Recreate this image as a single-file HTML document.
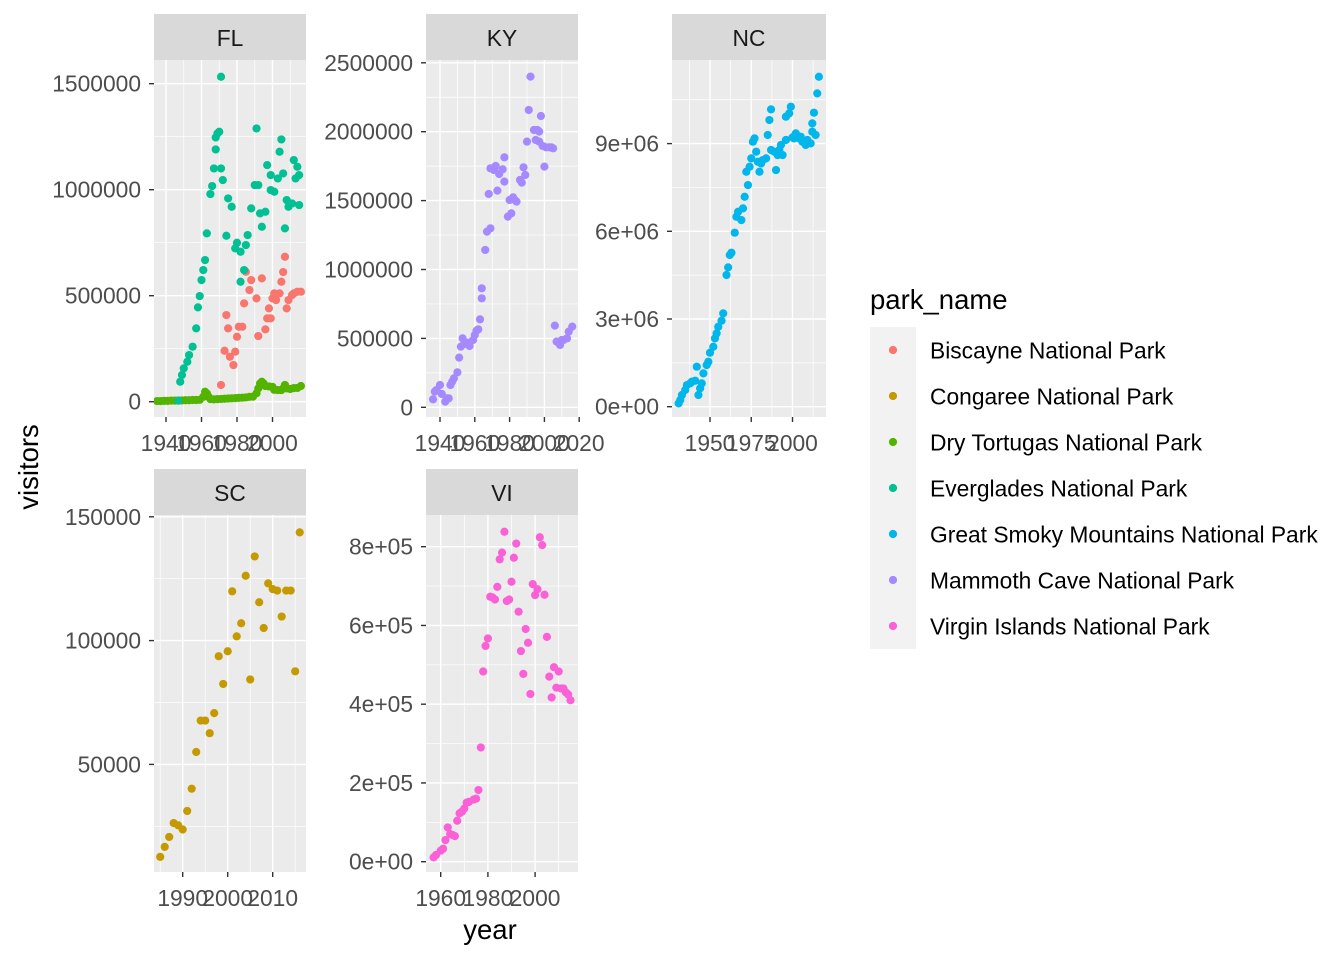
<!DOCTYPE html>
<html><head><meta charset="utf-8">
<style>
html,body{margin:0;padding:0;background:#fff;}
svg{display:block;font-family:"Liberation Sans",sans-serif;}
</style></head>
<body>
<svg id="chart" width="1344" height="960" viewBox="0 0 1344 960" xmlns="http://www.w3.org/2000/svg"></svg>
<script>
// ---- data ----
const parkNames = ["Biscayne National Park","Congaree National Park","Dry Tortugas National Park","Everglades National Park","Great Smoky Mountains National Park","Mammoth Cave National Park","Virgin Islands National Park"];
const parkColors = ["#F8766D","#C49A00","#53B400","#00C094","#00B6EB","#A58AFF","#FB61D7"];
const stateNames = ["FL","KY","NC","SC","VI"];

const biscayneYears = [1971,1973,1974,1975,1976,1978,1979,1980,1981,1983,1984,1985,1987,1988,1991,1992,1994,1996,1997,1998,1999,2000,2001,2002,2004,2005,2006,2007,2008,2009,2011,2012,2014,2016];
const biscayneVisitors = [78600,240500,408700,345800,212200,172900,235800,306500,353700,353700,463700,613100,526600,573800,487300,309700,581600,341100,393000,440200,393000,487300,510900,479500,510900,565900,611500,683800,440200,479500,503000,510900,518800,518800];

const evergladesYears = [1947,1948,1949,1950,1952,1953,1955,1957,1958,1959,1960,1961,1962,1963,1965,1966,1967,1968,1968,1969,1970,1971,1971,1972,1974,1975,1977,1979,1980,1982,1982,1984,1985,1986,1988,1990,1992,1991,1993,1994,1996,1997,1999,1999,2001,2003,2004,2005,2006,2007,2008,2009,2011,2012,2013,2014,2015,2015];
const evergladesVisitors = [4700,94300,125800,157200,188600,220000,259400,345800,444900,498300,573800,620900,668100,793900,979400,1017100,1100400,1246600,1190000,1265500,1273300,1532700,1100400,1045400,782900,958900,919600,723100,749800,707400,565900,620900,738800,786000,911800,1021800,1021800,1289000,888200,825300,896000,1116100,1069000,998200,990400,1053200,1179000,1237200,1076800,817400,951100,919600,935300,1139700,1053200,1108300,1069000,927500];

const tortugasYears = [1935,1937,1939,1941,1943,1945,1947,1949,1951,1953,1955,1957,1959,1961,1962,1963,1964,1965,1967,1969,1971,1973,1975,1977,1979,1981,1983,1985,1987,1989,1991,1992,1993,1994,1995,1996,1998,2000,2001,2003,2005,2006,2007,2008,2010,2012,2014,2016];
const tortugasVisitors = [3000,3000,4000,4000,5000,5000,6000,6000,7000,7000,8000,8000,9000,23000,47000,39000,23000,12000,11000,12000,13000,14000,15000,16000,17000,18000,19000,20000,23000,24000,40000,63000,86000,94000,86000,74000,72000,70000,56000,55000,55000,63000,79000,63000,60000,64000,65000,74000];

const mammothYears = [1936,1937,1938,1940,1941,1943,1944,1945,1946,1947,1948,1950,1951,1952,1953,1954,1956,1957,1959,1960,1961,1962,1963,1964,1964,1966,1967,1969,1968,1969,1971,1972,1973,1974,1976,1977,1977,1979,1980,1981,1982,1983,1984,1986,1987,1988,1989,1990,1991,1992,1994,1995,1996,1997,1997,1998,1999,2000,2001,2003,2004,2005,2006,2007,2009,2010,2011,2013,2014,2016];
const mammothVisitors = [58100,113700,125800,162100,96800,41100,65300,65300,162100,186300,210500,254000,360400,440300,500700,459600,469300,445100,488600,524900,556400,566000,638600,791000,863600,1141800,1274800,1299000,1548200,1734400,1722300,1751400,1572400,1693300,1727200,1814300,1637700,1383700,1504600,1407900,1524000,1504600,1492500,1649800,1630400,1741700,1686000,1928000,2157700,2399600,2012600,1940000,2012600,1928000,2000500,2114200,1896500,1746500,1886800,1886800,1886800,1879600,592700,476500,452400,488600,488600,500700,549100,585400];

const smokyYears = [1931,1932,1933,1935,1936,1938,1939,1941,1942,1943,1944,1945,1946,1948,1949,1950,1952,1953,1954,1955,1957,1958,1960,1961,1962,1963,1965,1966,1967,1969,1970,1971,1973,1972,1974,1975,1976,1977,1978,1979,1980,1981,1982,1984,1985,1986,1987,1987,1989,1990,1991,1992,1993,1994,1996,1996,1998,1999,2000,2001,2002,2004,2005,2006,2008,2009,2011,2012,2012,2013,2014,2015,2016];
const smokyVisitors = [114000,228000,399000,570000,741000,798000,855000,889000,1368000,399000,627000,798000,1140000,1425000,1539000,1847000,2052000,2337000,2508000,2736000,2942000,3193000,4504000,4766000,5188000,5268000,5952000,6499000,6670000,6385000,6784000,7183000,7582000,8038000,8209000,8494000,9065000,9179000,8723000,8380000,8038000,8323000,8437000,8494000,9293000,9806000,10171000,8780000,8723000,8095000,8608000,8780000,8951000,8608000,9122000,9920000,10034000,10262000,9213000,9179000,9350000,9179000,9236000,9065000,8951000,9122000,9008000,9407000,9692000,10057000,9293000,10718000,11288000];

const congareeYears = [1985,1986,1987,1988,1989,1990,1991,1992,1993,1994,1995,1996,1997,1998,1999,2000,2001,2002,2003,2004,2005,2006,2007,2008,2009,2010,2011,2012,2013,2014,2015,2016];
const congareeVisitors = [12640,16700,20700,26300,25400,23700,31200,40200,55000,67700,67700,62600,70700,93700,82500,95700,119900,101700,107000,126200,84300,134000,115500,105100,123100,120800,120200,109700,120200,120200,87600,143700];

const virginYears = [1957,1958,1960,1961,1962,1963,1964,1965,1966,1967,1968,1969,1970,1971,1972,1974,1975,1976,1977,1978,1979,1980,1981,1982,1983,1984,1985,1986,1987,1988,1989,1990,1991,1992,1993,1994,1995,1996,1997,1998,1999,2000,2001,2002,2003,2004,2005,2006,2007,2008,2009,2010,2011,2012,2013,2014,2015];
const virginVisitors = [11000,17000,28000,33000,55000,87000,70000,68000,65000,104000,123000,127000,135000,150000,152000,158000,160000,182000,290000,483000,548000,567000,673000,671000,666000,698000,768000,785000,838000,662000,666000,711000,772000,808000,635000,535000,477000,591000,556000,426000,705000,677000,692000,824000,804000,678000,571000,470000,417000,494000,442000,483000,440000,440000,430000,425000,410000];

const flXTicks = [1940,1960,1980,2000];
const flYTicks = [0,500000,1000000,1500000];
const flYLabels = ["0","500000","1000000","1500000"];
const kyXTicks = [1940,1960,1980,2000,2020];
const kyYTicks = [0,500000,1000000,1500000,2000000,2500000];
const kyYLabels = ["0","500000","1000000","1500000","2000000","2500000"];
const ncXTicks = [1950,1975,2000];
const ncYTicks = [0,3000000,6000000,9000000];
const ncYLabels = ["0e+00","3e+06","6e+06","9e+06"];
const scXTicks = [1990,2000,2010];
const scYTicks = [50000,100000,150000];
const scYLabels = ["50000","100000","150000"];
const viXTicks = [1960,1980,2000];
const viYTicks = [0,200000,400000,600000,800000];
const viYLabels = ["0e+00","2e+05","4e+05","6e+05","8e+05"];

// ---- layout ----
const svg = document.getElementById('chart');
const NS = 'http://www.w3.org/2000/svg';
function mk(tag, attrs, parent){
  const e = document.createElementNS(NS, tag);
  for (const k in attrs) e.setAttribute(k, attrs[k]);
  (parent||svg).appendChild(e);
  return e;
}
const FS = 22.8;
const PR = 4.1;
const panels = [
  {state:0, x0:154, x1:306, y0:60, y1:417, xRefYear:1940, xRefPx:166, xk:1.775, yZero:401.7, yk:106/500000,
   xt:flXTicks, yt:flYTicks, yl:flYLabels,
   series:[[biscayneYears,biscayneVisitors,0],[tortugasYears,tortugasVisitors,2],[evergladesYears,evergladesVisitors,3]]},
  {state:1, x0:426, x1:578, y0:60, y1:417, xRefYear:1940, xRefPx:440, xk:1.74, yZero:407.3, yk:68.9/500000,
   xt:kyXTicks, yt:kyYTicks, yl:kyYLabels, series:[[mammothYears,mammothVisitors,5]]},
  {state:2, x0:672, x1:826, y0:60, y1:417, xRefYear:1950, xRefPx:710, xk:1.65, yZero:406.7, yk:87.7/3000000,
   xt:ncXTicks, yt:ncYTicks, yl:ncYLabels, series:[[smokyYears,smokyVisitors,4]]},
  {state:3, x0:154, x1:306, y0:515, y1:872, xRefYear:1990, xRefPx:182.7, xk:4.5, yZero:888.2, yk:123.8/50000,
   xt:scXTicks, yt:scYTicks, yl:scYLabels, series:[[congareeYears,congareeVisitors,1]]},
  {state:4, x0:426, x1:578, y0:515, y1:872, xRefYear:1960, xRefPx:440.7, xk:2.36, yZero:861.7, yk:315/800000,
   xt:viXTicks, yt:viYTicks, yl:viYLabels, series:[[virginYears,virginVisitors,6]]}
];

panels.forEach(p => {
  const sx = yr => p.xRefPx + (yr - p.xRefYear)*p.xk;
  const sy = v => p.yZero - v*p.yk;
  const g = mk('g', {});
  
  
  const bg = mk('rect', {x:p.x0, y:p.y0, width:p.x1-p.x0, height:p.y1-p.y0, fill:'#ebebeb'}, g);
  
  
  const xs = p.xt[1]-p.xt[0], ys = p.yt[1]-p.yt[0];
  for (let v = p.xt[0]-xs*1.5; v <= p.xt[p.xt.length-1]+xs*1.5; v += xs){
    const px = sx(v); if (px<=p.x0||px>=p.x1) continue;
    const l = mk('line', {x1:px, x2:px, y1:p.y0, y2:p.y1, stroke:'#fff', 'stroke-width':0.7}, g);
    
    
  }
  for (let v = p.yt[0]-ys*1.5; v <= p.yt[p.yt.length-1]+ys*1.5; v += ys){
    const py = sy(v); if (py<=p.y0||py>=p.y1) continue;
    const l = mk('line', {x1:p.x0, x2:p.x1, y1:py, y2:py, stroke:'#fff', 'stroke-width':0.7}, g);
    
    
  }
  p.xt.forEach(v => {
    const px = sx(v);
    if (px > p.x0 && px < p.x1){
      const l = mk('line', {x1:px, x2:px, y1:p.y0, y2:p.y1, stroke:'#fff', 'stroke-width':1.4}, g);
      
      
    }
    const t = mk('line', {x1:px, x2:px, y1:p.y1, y2:p.y1+5, stroke:'#333', 'stroke-width':1.4}, g);
    
    
    const tx = mk('text', {x:px, y:p.y1+34, 'text-anchor':'middle', 'font-size':FS, fill:'#4d4d4d'}, g);
    
    
    tx.textContent = String(v);
  });
  p.yt.forEach((v,i) => {
    const py = sy(v);
    const l = mk('line', {x1:p.x0, x2:p.x1, y1:py, y2:py, stroke:'#fff', 'stroke-width':1.4}, g);
    
    
    const t = mk('line', {x1:p.x0-5, x2:p.x0, y1:py, y2:py, stroke:'#333', 'stroke-width':1.4}, g);
    
    
    const tx = mk('text', {x:p.x0-13, y:py+8, 'text-anchor':'end', 'font-size':FS, fill:'#4d4d4d'}, g);
    
    
    tx.textContent = p.yl[i];
  });
  const st = mk('rect', {x:p.x0, y:p.y0-46, width:p.x1-p.x0, height:46, fill:'#d9d9d9'}, g);
  
  
  const stt = mk('text', {x:(p.x0+p.x1)/2, y:p.y0-14, 'text-anchor':'middle', 'font-size':FS, fill:'#1a1a1a'}, g);
  
  
  stt.textContent = stateNames[p.state];
  const clip = 'clip' + p.state;
  const cp = mk('clipPath', {id:clip}, g);
  mk('rect', {x:p.x0, y:p.y0, width:p.x1-p.x0, height:p.y1-p.y0}, cp);
  p.series.forEach(s => {
    const [yrs, vals, ci] = s;
    const sg = mk('g', {'clip-path':'url(#'+clip+')'}, g);
    
    
    yrs.forEach((yr, i) => {
      const c = mk('circle', {cx:sx(yr), cy:sy(vals[i]), r:PR, fill:parkColors[ci]}, sg);
      
      
    });
  });
});

const xt = mk('text', {x:490, y:939, 'text-anchor':'middle', 'font-size':27.5, fill:'#000'});


xt.textContent = 'year';
const yt = mk('text', {x:0, y:0, 'text-anchor':'middle', 'font-size':27.5, fill:'#000', transform:'translate(38,467) rotate(-90)'});


yt.textContent = 'visitors';

const lg = mk('g', {});


const lt = mk('text', {x:870, y:309, 'font-size':27.5, fill:'#000'}, lg);


lt.textContent = 'park_name';
parkNames.forEach((n, i) => {
  const cy = 350 + i*46;
  const kb = mk('rect', {x:870, y:cy-23, width:46, height:46, fill:'#f2f2f2'}, lg);
  
  
  const d = mk('circle', {cx:893, cy:cy, r:PR, fill:parkColors[i]}, lg);
  
  
  const t = mk('text', {x:930, y:cy+8.5, 'font-size':FS, fill:'#000'}, lg);
  
  
  t.textContent = n;
});
</script>
</body></html>
